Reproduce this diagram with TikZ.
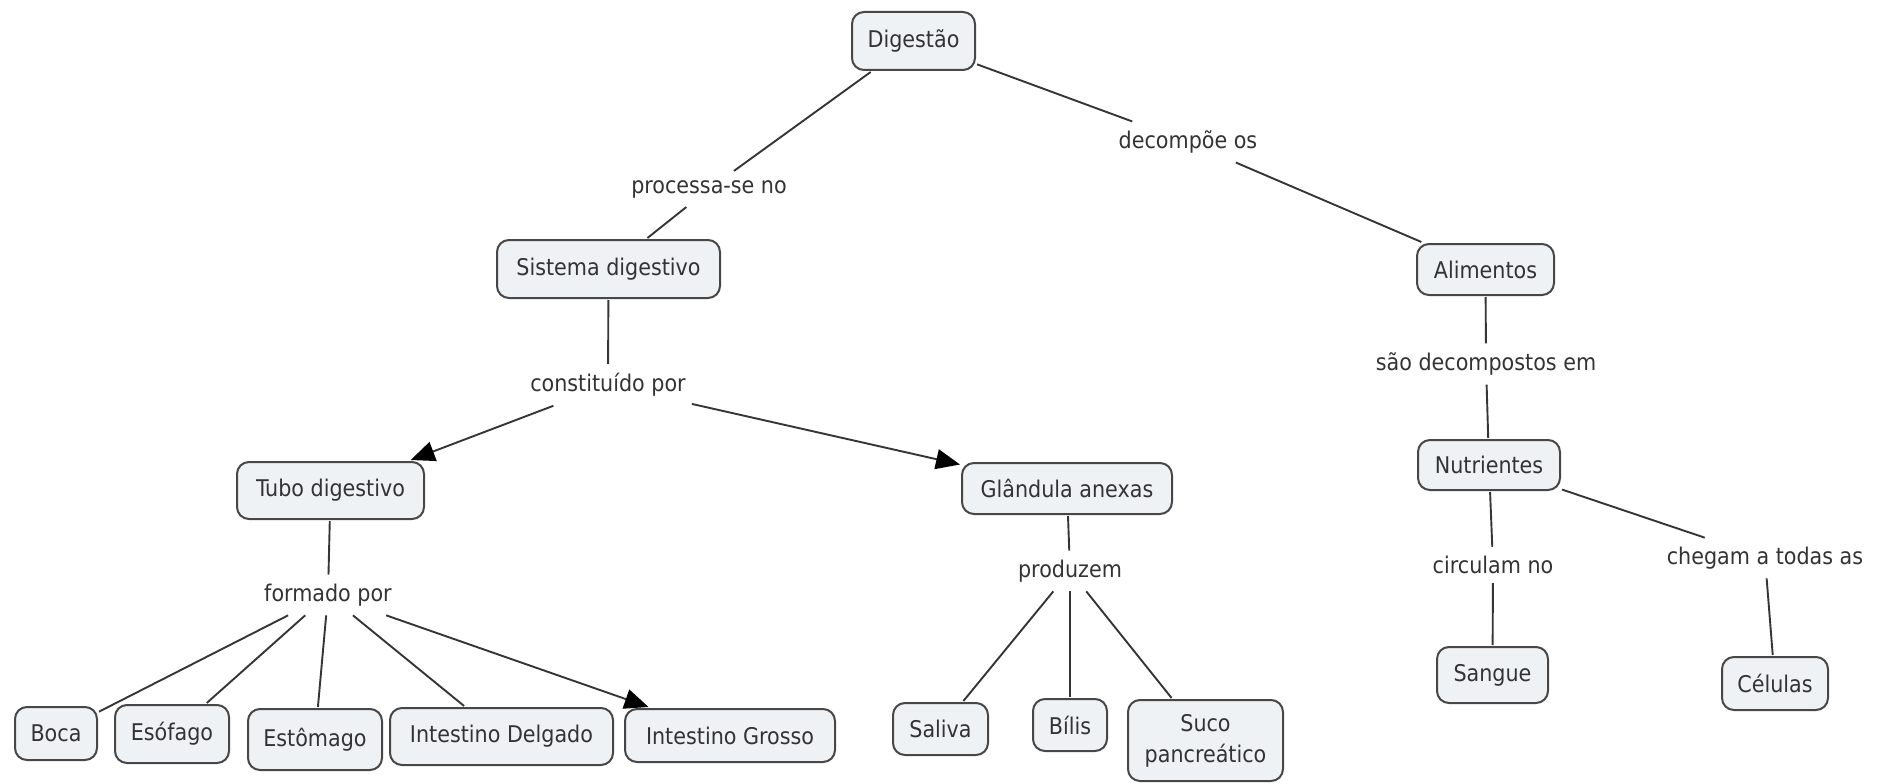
\documentclass[tikz,border=0pt]{standalone}
\usepackage{fontspec}
\setmainfont{DejaVu Sans Condensed}
\usetikzlibrary{arrows.meta}
\definecolor{boxfill}{HTML}{EEF2F5}
\definecolor{boxdraw}{HTML}{474747}
\definecolor{txt}{HTML}{333333}
\definecolor{linec}{HTML}{353535}
\tikzset{
  concept/.style={draw=boxdraw, line width=2pt, fill=boxfill, rounded corners=12pt,
    text=txt, inner sep=0pt, outer sep=2pt, align=center},
  phrase/.style={text=txt, inner xsep=6pt, inner ysep=9pt},
  conn/.style={draw=linec, line width=1.9pt},
  arr/.style={conn, -{Triangle[length=24pt,width=20pt,color=black]}},
}
\begin{document}
\begin{tikzpicture}[x=1pt,y=-1pt, font=\fontsize{23}{27}\selectfont]
\useasboundingbox (0,0) rectangle (1885,784);
% concepts
\node[concept, minimum width=123pt, minimum height=58pt] (dig) at (913.5,41) {Digestão};
\node[concept, minimum width=223pt, minimum height=58pt] (sis) at (608.5,269) {Sistema digestivo};
\node[concept, minimum width=137pt, minimum height=51pt] (ali) at (1485.5,269.5) {Alimentos};
\node[concept, minimum width=187pt, minimum height=57pt] (tub) at (330.5,490.5) {Tubo digestivo};
\node[concept, minimum width=210pt, minimum height=51pt] (gla) at (1067,488.5) {Glândula anexas};
\node[concept, minimum width=142pt, minimum height=50pt] (nut) at (1489,465) {Nutrientes};
\node[concept, minimum width=82pt, minimum height=53pt] (boc) at (56,733.5) {Boca};
\node[concept, minimum width=114pt, minimum height=58pt] (eso) at (172,734) {Esófago};
\node[concept, minimum width=134pt, minimum height=61pt] (est) at (315,739.5) {Estômago};
\node[concept, minimum width=223pt, minimum height=57pt] (idl) at (501.5,736.5) {Intestino Delgado};
\node[concept, minimum width=210pt, minimum height=53pt] (igr) at (730,735.5) {Intestino Grosso};
\node[concept, minimum width=95pt, minimum height=52pt] (sal) at (940.5,729) {Saliva};
\node[concept, minimum width=74pt, minimum height=52pt] (bil) at (1070,725) {Bílis};
\node[concept, minimum width=155pt, minimum height=81pt, font=\fontsize{23}{31}\selectfont] (suc) at (1205.5,740.5) {Suco\\pancreático};
\node[concept, minimum width=111pt, minimum height=56pt] (san) at (1492.5,675) {Sangue};
\node[concept, minimum width=106pt, minimum height=53pt] (cel) at (1775,683.5) {Células};
% linking phrases
\node[phrase] (pro) at (709,189) {processa-se no};
\node[phrase] (dec) at (1188,142) {decompõe os};
\node[phrase] (con) at (608,385) {constituído por};
\node[phrase] (sao) at (1486,364) {são decompostos em};
\node[phrase] (for) at (328,595) {formado por};
\node[phrase] (prd) at (1070,571) {produzem};
\node[phrase] (cir) at (1493,565) {circulam no};
\node[phrase] (che) at (1765,558) {chegam a todas as};
% connectors
\draw[conn] (dig) -- (pro);
\draw[conn] (pro) -- (sis);
\draw[conn] (dig) -- (dec);
\draw[conn] (dec) -- (ali);
\draw[conn] (sis) -- (con);
\draw[arr] (con) -- (tub);
\draw[arr] (con) -- (gla);
\draw[conn] (tub) -- (for);
\draw[conn] (for) -- (boc);
\draw[conn] (for) -- (eso);
\draw[conn] (for) -- (est);
\draw[conn] (for) -- (idl);
\draw[arr] (for) -- (igr);
\draw[conn] (gla) -- (prd);
\draw[conn] (prd) -- (sal);
\draw[conn] (prd) -- (bil);
\draw[conn] (prd) -- (suc);
\draw[conn] (ali) -- (sao);
\draw[conn] (sao) -- (nut);
\draw[conn] (nut) -- (cir);
\draw[conn] (cir) -- (san);
\draw[conn] (nut) -- (che);
\draw[conn] (che) -- (cel);
\end{tikzpicture}
\end{document}
